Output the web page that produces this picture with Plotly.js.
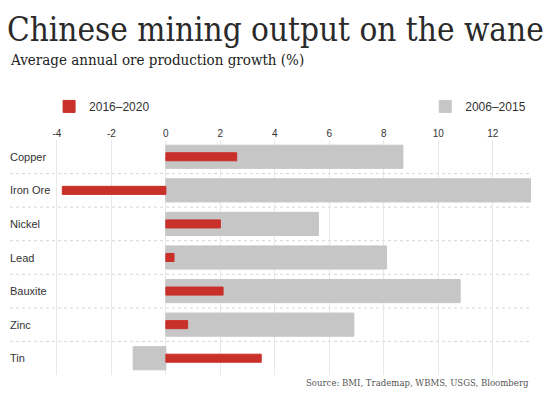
<!DOCTYPE html>
<html>
<head>
<meta charset="utf-8">
<script src="https://cdn.plot.ly/plotly-3.0.1.min.js"></script>
<style>html,body{margin:0;padding:0;background:#fff;}#chart{width:550px;height:396px;}</style>
</head>
<body>
<div id="chart"></div>
<script>
const categories = ['Copper', 'Iron Ore', 'Nickel', 'Lead', 'Bauxite', 'Zinc', 'Tin'];
const growth2016_2020 = [2.6, -3.8, 2.0, 0.3, 2.1, 0.8, 3.5];
const growth2006_2015 = [8.7, 13.4, 5.6, 8.1, 10.8, 6.9, -1.2];
const seriesNames = ['2016\u20132020', '2006\u20132015'];
const xTicks = [-4, -2, 0, 2, 4, 6, 8, 10, 12];

const sans = 'Liberation Sans, Arial, sans-serif';
const serif = 'DejaVu Serif Condensed, DejaVu Serif, serif';

const traces = [
  {
    type: 'bar', orientation: 'h', name: seriesNames[1],
    y: categories, x: growth2006_2015, width: 0.69,
    marker: {color: '#c6c6c6', line: {color: '#c6c6c6', width: 1}}, legend: 'legend2', hoverinfo: 'x+y'
  },
  {
    type: 'bar', orientation: 'h', name: seriesNames[0],
    y: categories, x: growth2016_2020, width: 0.24,
    marker: {color: '#c9302a', line: {color: '#c9302a', width: 1}}, legend: 'legend', hoverinfo: 'x+y'
  }
];

const shapes = [];
for (let i = 1; i < categories.length; i++) {
  shapes.push({type: 'line', xref: 'paper', x0: 0, x1: 1, yref: 'y', y0: i - 0.5, y1: i - 0.5,
    line: {color: '#d6d6d6', width: 1, dash: 'dot'}, layer: 'below'});
}

const annotations = categories.map(c => ({
  xref: 'paper', x: 0, xanchor: 'left', xshift: -2, yref: 'y', y: c, yanchor: 'middle',
  text: c, showarrow: false, font: {family: sans, size: 11, color: '#333'}
}));
annotations.push({
  xref: 'paper', x: 0, xanchor: 'left', xshift: -2, yref: 'paper', y: 1.34, yanchor: 'middle',
  text: 'Average annual ore production growth (%)', showarrow: false,
  font: {family: serif, size: 15, color: '#222'}
});
annotations.push({
  xref: 'paper', x: 1, xanchor: 'right', yref: 'paper', y: -0.03, yanchor: 'middle',
  text: 'Source: BMI, Trademap, WBMS, USGS, Bloomberg', showarrow: false,
  font: {family: serif, size: 9.5, color: '#555'}
});

const layout = {
  width: 550, height: 396,
  margin: {l: 10, r: 19, t: 140, b: 21, autoexpand: false},
  paper_bgcolor: '#fff', plot_bgcolor: '#fff',
  barmode: 'overlay',
  title: {
    text: 'Chinese mining output on the wane',
    font: {family: serif, size: 33, color: '#2a2a2a'},
    xref: 'container', x: 7 / 550, xanchor: 'left',
    yref: 'container', y: 1 - 29 / 396, yanchor: 'middle'
  },
  xaxis: {
    side: 'top', range: [-5.72, 13.4], tickvals: xTicks, ticktext: xTicks.map(String),
    showgrid: true, gridcolor: '#e8e8e8', gridwidth: 1, zeroline: false,
    showline: false, ticks: '', tickfont: {family: sans, size: 10, color: '#333'}, fixedrange: true
  },
  yaxis: {
    type: 'category', categoryarray: categories, range: [6.5, -0.5],
    showticklabels: false, showgrid: false, zeroline: false, showline: false, ticks: '', fixedrange: true
  },
  legend: {
    x: 0.075, xanchor: 'left', y: 1.143, yanchor: 'middle', orientation: 'h',
    font: {family: sans, size: 12, color: '#333'}, bgcolor: 'rgba(0,0,0,0)'
  },
  legend2: {
    x: 0.797, xanchor: 'left', y: 1.143, yanchor: 'middle', orientation: 'h',
    font: {family: sans, size: 12, color: '#333'}, bgcolor: 'rgba(0,0,0,0)'
  },
  shapes: shapes,
  annotations: annotations,
  showlegend: true
};

Plotly.newPlot('chart', traces, layout, {displayModeBar: false, staticPlot: true});
</script>
</body>
</html>
